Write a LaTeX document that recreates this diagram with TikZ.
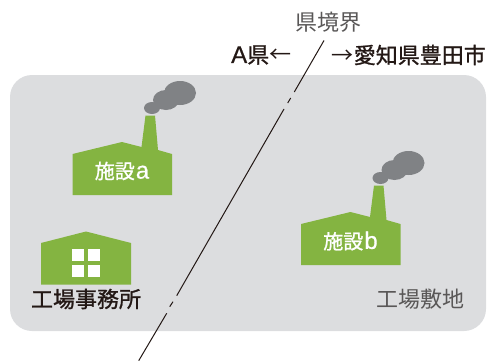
\documentclass[tikz,border=0pt]{standalone}
\usepackage{fontspec}
\setmainfont{Noto Sans CJK JP}
\newfontfamily\midfont[FakeBold=1.1]{Noto Sans CJK JP}
\newfontfamily\latinfont[FakeBold=0.6]{Liberation Sans}
\usepackage{tikz}
\definecolor{sitegray}{HTML}{DCDDDF}
\definecolor{smokegray}{HTML}{808285}
\definecolor{plantgreen}{HTML}{84B441}
\definecolor{inkblack}{HTML}{231815}
\definecolor{inkgray}{HTML}{595757}
\tikzset{
  boldlabel/.style={inner sep=0pt,text=inkblack,font=\fontsize{22}{22}\selectfont\midfont},
  thinlabel/.style={inner sep=0pt,text=inkgray,font=\fontsize{22}{22}\selectfont},
  plantlabel/.style={inner sep=0pt,text=white,font=\fontsize{20}{20}\selectfont\midfont},
  border/.style={inkblack,line width=1pt}
}
\begin{document}
\begin{tikzpicture}[x=1pt,y=-1pt]
\useasboundingbox (0,0) rectangle (487,361);
\fill[sitegray,rounded corners=22pt] (10,75) rectangle (486,331);
\foreach \px/\py/\pname/\ptext in {0/0/planta/a,228.5/70/plantb/b}{
  \fill[plantgreen] (72.5+\px,195+\py) -- (72.5+\px,154+\py) -- (122+\px,142+\py) -- (141.5+\px,147+\py)
    -- (145.5+\px,115.5+\py) -- (155+\px,115.5+\py) -- (158+\px,150+\py) -- (172+\px,154+\py) -- (172+\px,195+\py) -- cycle;
  \fill[smokegray] (152+\px,108+\py) ellipse (8 and 6);
  \fill[smokegray] (166+\px,100+\py) ellipse (13 and 10);
  \fill[smokegray] (180+\px,93+\py) ellipse (16 and 12);
  \node[plantlabel] (\pname) at (122+\px,171+\py) {施設\hspace{1pt}{\latinfont\fontsize{24}{24}\selectfont\ptext}};
}
% office
\fill[plantgreen] (41,284.5) -- (41,243) -- (86,231.5) -- (131,243) -- (131,284.5) -- cycle;
\foreach \wx in {72,88}{
  \foreach \wy in {249,265}{
    \fill[white] (\wx,\wy) rectangle ++(12,12);
  }
}
\node[boldlabel] (office) at (86,299) {工場事務所};
\node[thinlabel] (site) at (420,299.5) {工場敷地};
\node[thinlabel] (border) at (328.5,22) {県境界};
\node[boldlabel,anchor=west] (prefa) at (231,55) {{\latinfont\fontsize{24}{24}\selectfont A}県{\normalfont ←}};
\node[boldlabel,anchor=east] (toyota) at (486,55) {{\normalfont →}愛知県豊田市};
% prefectural border
\coordinate (b1) at (324,40.5);
\coordinate (b2) at (294.3,92);
\coordinate (b3) at (290.7,98);
\coordinate (b4) at (287.7,103);
\coordinate (b5) at (284,109);
\coordinate (b6) at (176.7,295.7);
\coordinate (b7) at (173,301.7);
\coordinate (b8) at (169.7,306.7);
\coordinate (b9) at (166.7,313.3);
\coordinate (b10) at (138.7,360.7);
\draw[border] (b1) -- (b2) (b3) -- (b4) (b5) -- (b6) (b7) -- (b8) (b9) -- (b10);
\end{tikzpicture}
\end{document}
